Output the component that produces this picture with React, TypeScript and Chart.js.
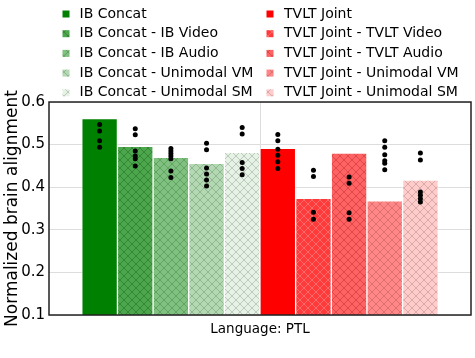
import React, { useEffect, useRef } from 'react';
import { Chart, registerables } from 'chart.js';

Chart.register(...registerables);

const categoryLabel = 'Language: PTL';
const yAxisTitle = 'Normalized brain alignment';

const seriesNames = [
  'IB Concat',
  'IB Concat - IB Video',
  'IB Concat - IB Audio',
  'IB Concat - Unimodal VM',
  'IB Concat - Unimodal SM',
  'TVLT Joint',
  'TVLT Joint - TVLT Video',
  'TVLT Joint - TVLT Audio',
  'TVLT Joint - Unimodal VM',
  'TVLT Joint - Unimodal SM',
];

const barValues = [0.561, 0.496, 0.470, 0.456, 0.482, 0.491, 0.374, 0.480, 0.368, 0.417];

const dots1 = [0.547, 0.532, 0.509, 0.494];
const dots2 = [0.537, 0.523, 0.485, 0.473, 0.467, 0.450];
const dots3 = [0.491, 0.485, 0.479, 0.473, 0.467, 0.438, 0.423];
const dots4 = [0.503, 0.488, 0.445, 0.431, 0.417, 0.403];
const dots5 = [0.540, 0.525, 0.458, 0.444, 0.429];
const dots6 = [0.524, 0.509, 0.489, 0.475, 0.460, 0.444];
const dots7 = [0.440, 0.425, 0.341, 0.325];
const dots8 = [0.424, 0.409, 0.340, 0.325];
const dots9 = [0.509, 0.494, 0.476, 0.462, 0.456, 0.441];
const dots10 = [0.480, 0.464, 0.389, 0.381, 0.373, 0.365];
const dotSets = [dots1, dots2, dots3, dots4, dots5, dots6, dots7, dots8, dots9, dots10];

const yTicks = [0.1, 0.2, 0.3, 0.4, 0.5, 0.6];

const barColors = [
  '#008000', '#4ca64c', '#80c080', '#b3d9b3', '#e6f2e6',
  '#ff0000', '#ff3a3a', '#ff6262', '#ff8787', '#ffcccc',
];
const hatchColors: (string | null)[] = [
  null, 'rgba(0,60,0,0.3)', 'rgba(0,80,0,0.25)', 'rgba(70,100,70,0.3)', 'rgba(90,110,90,0.3)',
  null, 'rgba(255,200,200,0.35)', 'rgba(120,0,0,0.25)', 'rgba(120,40,40,0.25)', 'rgba(140,90,90,0.3)',
];

const FONT = '"DejaVu Sans", sans-serif';

function makeFill(color: string, hatch: string | null): any {
  if (!hatch) return color;
  const s = 8;
  const c = document.createElement('canvas');
  c.width = s;
  c.height = s;
  const g = c.getContext('2d')!;
  g.fillStyle = color;
  g.fillRect(0, 0, s, s);
  g.strokeStyle = hatch;
  g.lineWidth = 1;
  g.beginPath();
  g.moveTo(-1, -1);
  g.lineTo(s + 1, s + 1);
  g.moveTo(-1, s + 1);
  g.lineTo(s + 1, -1);
  g.stroke();
  return g.createPattern(c, 'repeat');
}

export default function App() {
  const ref = useRef<HTMLCanvasElement>(null);

  useEffect(() => {
    document.body.style.margin = '0';
    const fills = barColors.map((c, i) => makeFill(c, hatchColors[i]));

    const legendPlugin = {
      id: 'colLegend',
      afterDraw(chart: any) {
        const ctx = chart.ctx;
        ctx.save();
        ctx.font = `14px ${FONT}`;
        ctx.textBaseline = 'middle';
        ctx.textAlign = 'left';
        seriesNames.forEach((name, i) => {
          const col = i < 5 ? 0 : 1;
          const row = i % 5;
          const mx = col === 0 ? 62.5 : 266.5;
          const tx = col === 0 ? 79.5 : 284;
          const y = 14 + row * 19.7;
          ctx.fillStyle = fills[i];
          ctx.fillRect(mx, y - 3.5, 7, 7);
          ctx.fillStyle = '#000';
          ctx.fillText(name, tx, y);
        });
        ctx.restore();
      },
    };

    const framePlugin = {
      id: 'frame',
      afterDatasetsDraw(chart: any) {
        const { ctx, chartArea: a } = chart;
        ctx.save();
        ctx.strokeStyle = '#222';
        ctx.lineWidth = 1.5;
        ctx.strokeRect(a.left, a.top, a.right - a.left, a.bottom - a.top);
        ctx.restore();
      },
    };

    const dotData: { x: number; y: number }[] = [];
    dotSets.forEach((set, i) => set.forEach((v) => dotData.push({ x: i, y: v })));

    const chart = new Chart(ref.current!, {
      type: 'bar',
      data: {
        datasets: [
          {
            type: 'bar',
            data: barValues.map((v, i) => ({ x: i, y: v })),
            backgroundColor: fills,
            borderColor: 'rgba(255,255,255,0.45)',
            borderWidth: 1,
            barPercentage: 1,
            categoryPercentage: 1,
            order: 1,
          } as any,
          {
            type: 'scatter',
            data: dotData,
            backgroundColor: '#000',
            borderColor: '#000',
            borderWidth: 0,
            pointRadius: 2.5,
            order: 0,
          } as any,
        ],
      },
      options: {
        responsive: false,
        animation: false,
        layout: { padding: { top: 102, right: 2, left: 0, bottom: 0 } },
        plugins: { legend: { display: false }, tooltip: { enabled: false } },
        scales: {
          x: {
            type: 'linear',
            offset: false,
            min: -1.42,
            max: 10.42,
            afterBuildTicks: (s: any) => {
              s.ticks = [{ value: 4.5 }];
            },
            afterFit: (s: any) => {
              s.height = 43;
            },
            ticks: {
              callback: () => categoryLabel,
              font: { family: FONT, size: 13.5 },
              color: '#000',
              padding: 6,
              maxRotation: 0,
            },
            grid: { color: '#dddddd', drawTicks: false, offset: false },
            border: { display: false },
          },
          y: {
            type: 'linear',
            min: 0.1,
            max: 0.6,
            afterBuildTicks: (s: any) => {
              s.ticks = yTicks.map((v) => ({ value: v }));
            },
            afterFit: (s: any) => {
              s.width = 49;
            },
            ticks: {
              callback: (v: any) => Number(v).toFixed(1),
              font: { family: FONT, size: 15 },
              color: '#000',
              padding: 4,
            },
            grid: { color: '#dddddd', drawTicks: false },
            border: { display: false },
            title: {
              display: true,
              text: yAxisTitle,
              font: { family: FONT, size: 17, lineHeight: 1.2 },
              color: '#000',
              padding: { top: 2, bottom: 0 },
            },
          },
        },
      } as any,
      plugins: [legendPlugin, framePlugin],
    });
    return () => chart.destroy();
  }, []);

  return (
    <div style={{ position: 'absolute', left: 0, top: 0, width: 475, height: 358 }}>
      <canvas ref={ref} width={475} height={358} />
    </div>
  );
}
